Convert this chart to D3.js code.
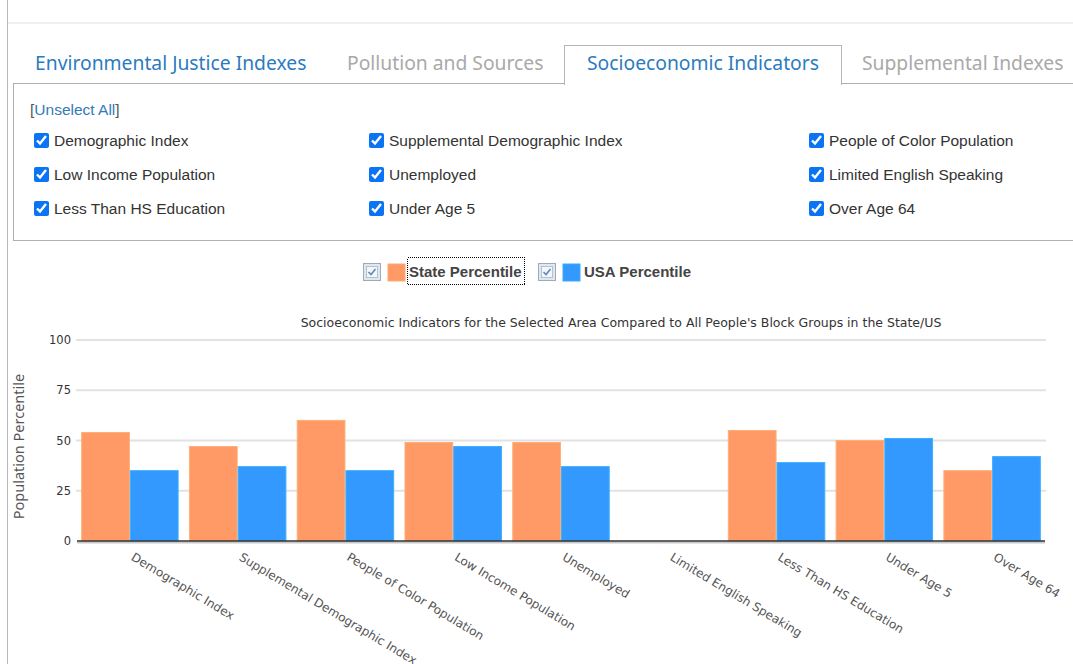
<!DOCTYPE html>
<html>
<head>
<meta charset="utf-8">
<script src="https://cdn.jsdelivr.net/npm/d3@7"></script>
<style>
  body { margin: 0; background: #fff; width: 1073px; height: 664px; overflow: hidden; position: relative; font-family: "Liberation Sans", Arial, sans-serif; }
  .abs { position: absolute; }
  .tab { position: absolute; top: 44px; height: 38px; line-height: 38px; font-family: "Noto Sans", "Open Sans", sans-serif; font-size: 19.3px; white-space: nowrap; }
  .chk { position: absolute; font-size: 15.5px; color: #333; white-space: nowrap; line-height: 18px; }
  .chk input { margin: 0; width: 15px; height: 15px; accent-color: #0a74f5; vertical-align: -2px; margin-right: 5px; }
  svg { position: absolute; left: 0; top: 0; }
</style>
</head>
<body>
<div id="page"></div>
<svg id="chart" width="1073" height="664"></svg>
<script>
// chart values
var categories = ["Demographic Index", "Supplemental Demographic Index", "People of Color Population",
  "Low Income Population", "Unemployed", "Limited English Speaking",
  "Less Than HS Education", "Under Age 5", "Over Age 64"];
var statePct = [54, 47, 60, 49, 49, null, 55, 50, 35];
var usaPct = [35, 37, 35, 47, 37, null, 39, 51, 42];
var seriesNames = ["State Percentile", "USA Percentile"];
var seriesColors = ["#ff9966", "#3399ff"];
var yTicks = [0, 25, 50, 75, 100];
var tabNames = ["Environmental Justice Indexes", "Pollution and Sources", "Socioeconomic Indicators", "Supplemental Indexes"];
var chartTitle = "Socioeconomic Indicators for the Selected Area Compared to All People's Block Groups in the State/US";

var page = d3.select("#page");

// page frame lines
page.append("div").attr("class", "abs")
  .style("left", "7px").style("top", "0px").style("width", "1px").style("height", "664px").style("background", "#b8b8b8");
page.append("div").attr("class", "abs")
  .style("left", "8px").style("top", "22px").style("width", "1065px").style("height", "2px").style("background", "#f0f0f0");

// tabs
var tabLeft = [35, 347, 564, 862];
var tabColor = ["#2b7bc0", "#a9a9a9", "#2b7bc0", "#a9a9a9"];
page.append("div").attr("class", "abs")
  .style("left", "13px").style("top", "83px").style("width", "1060px").style("height", "156px")
  .style("border", "1px solid #b0b0b0").style("border-right", "none");
page.append("div").attr("class", "abs")
  .style("left", "564px").style("top", "45px").style("width", "276px").style("height", "39px")
  .style("border", "1px solid #b5b5b5").style("border-bottom", "none").style("background", "#fff");

tabNames.forEach(function(t, i) {
  page.append("div").attr("class", "tab")
    .style("left", (i == 2 ? 564 : tabLeft[i]) + "px")
    .style("width", i == 2 ? "278px" : null)
    .style("text-align", i == 2 ? "center" : null)
    .style("color", tabColor[i])
    .text(t);
});

// unselect all link
var un = page.append("div").attr("class", "abs")
  .style("left", "30px").style("top", "101px").style("font-size", "15.5px").style("color", "#555");
un.append("span").text("[");
un.append("span").style("color", "#337ab7").text("Unselect All");
un.append("span").text("]");

// indicator checkboxes, 3 per row
var colX = [34, 369, 809];
var rowY = [132, 166, 200];
categories.forEach(function(c, i) {
  var lab = page.append("label").attr("class", "chk")
    .style("left", colX[i % 3] + "px")
    .style("top", rowY[Math.floor(i / 3)] + "px");
  lab.append("input").attr("type", "checkbox").property("checked", true);
  lab.append("span").text(c);
});

// ---- chart ----
var svg = d3.select("#chart");
var plotLeft = 76, plotRight = 1046, plotTop = 340, plotBottom = 541;

var x0 = d3.scaleBand().domain(categories).range([plotLeft, plotRight]).paddingInner(0.105).paddingOuter(0.0525);
var x1 = d3.scaleBand().domain(seriesNames).range([0, x0.bandwidth()]).paddingInner(0.02);
var y = d3.scaleLinear().domain([0, 100]).range([plotBottom, plotTop]);

// grid
svg.append("g")
  .selectAll("line").data(yTicks.slice(1)).join("line")
  .attr("x1", plotLeft).attr("x2", plotRight)
  .attr("y1", function(d) { return y(d); }).attr("y2", function(d) { return y(d); })
  .attr("stroke", "#e2e2e2").attr("stroke-width", 2);

var yAxis = svg.append("g").attr("transform", "translate(" + plotLeft + ",0)")
  .call(d3.axisLeft(y).tickValues(yTicks).tickSize(0).tickPadding(5));
yAxis.select(".domain").remove();
yAxis.selectAll("text").attr("font-family", "DejaVu Sans, Verdana, sans-serif").attr("font-size", 11.5).attr("fill", "#333");

// bars
var groups = svg.append("g").selectAll("g").data(categories).join("g")
  .attr("transform", function(d) { return "translate(" + x0(d) + ",0)"; });
groups.selectAll("rect")
  .data(function(d, i) {
    return [{ s: seriesNames[0], v: statePct[i], c: seriesColors[0] }, { s: seriesNames[1], v: usaPct[i], c: seriesColors[1] }]
      .filter(function(e) { return e.v != null; });
  })
  .join("rect")
  .attr("x", function(d) { return x1(d.s); })
  .attr("width", x1.bandwidth())
  .attr("y", function(d) { return y(d.v); })
  .attr("height", function(d) { return y(0) - y(d.v); })
  .attr("fill", function(d) { return d.c; })
  .attr("stroke", function(d) { return d3.color(d.c).brighter(0.4); })
  .attr("stroke-width", 1);

// x axis
svg.append("line").attr("x1", plotLeft + 1).attr("x2", plotRight - 1).attr("y1", plotBottom + 1.5).attr("y2", plotBottom + 1.5)
  .attr("stroke", "#c8c8c8").attr("stroke-width", 2);
svg.append("line").attr("x1", plotLeft + 1).attr("x2", plotRight - 1).attr("y1", plotBottom).attr("y2", plotBottom)
  .attr("stroke", "#333").attr("stroke-width", 1.5);

var xAxis = svg.append("g").attr("transform", "translate(0," + plotBottom + ")")
  .call(d3.axisBottom(x0).tickSize(0).tickPadding(0));
xAxis.select(".domain").remove();
xAxis.selectAll("text")
  .attr("font-family", "DejaVu Sans, Verdana, sans-serif").attr("font-size", 12).attr("fill", "#555")
  .attr("text-anchor", "start").attr("dy", null).attr("y", 0)
  .attr("transform", "translate(5,11) rotate(31)")
  .attr("dominant-baseline", "hanging");

// titles
svg.append("text").attr("x", 621).attr("y", 327).attr("text-anchor", "middle")
  .attr("font-family", "DejaVu Sans, Verdana, sans-serif").attr("font-size", 12.5).attr("fill", "#333")
  .text(chartTitle);
svg.append("text").attr("transform", "translate(24," + ((plotTop + plotBottom) / 2 + 6) + ") rotate(-90)")
  .attr("text-anchor", "middle")
  .attr("font-family", "Noto Sans, Open Sans, sans-serif").attr("font-size", 14.5).attr("fill", "#555")
  .text("Population Percentile");

// legend
var legX = [363, 538];
var leg = svg.append("g").selectAll("g").data(seriesNames).join("g")
  .attr("transform", function(d, i) { return "translate(" + legX[i] + ",263)"; });
leg.append("rect").attr("x", 0.5).attr("y", 0.5).attr("width", 17).attr("height", 17)
  .attr("fill", "#dfe7ef").attr("stroke", "#9aabbd");
leg.append("rect").attr("x", 3.5).attr("y", 3.5).attr("width", 11).attr("height", 11)
  .attr("fill", "#f4f7fa").attr("stroke", "#b4c2d0");
leg.append("path").attr("d", "M5.5,9 L8,11.5 L12.5,6").attr("fill", "none").attr("stroke", "#5f89b5").attr("stroke-width", 1.6);
leg.append("rect").attr("x", 25).attr("y", 1).attr("width", 17).attr("height", 17)
  .attr("fill", function(d, i) { return seriesColors[i]; })
  .attr("stroke", function(d, i) { return d3.color(seriesColors[i]).brighter(0.3); });
leg.append("text").attr("x", 46).attr("y", 14)
  .attr("font-family", "Liberation Sans, Arial, sans-serif").attr("font-size", 15).attr("font-weight", "bold").attr("fill", "#444")
  .text(function(d) { return d; });
svg.append("rect").attr("x", 407.5).attr("y", 257.5).attr("width", 117).attr("height", 27)
  .attr("fill", "none").attr("stroke", "#000").attr("stroke-dasharray", "1,1").attr("shape-rendering", "crispEdges");
</script>
</body>
</html>
